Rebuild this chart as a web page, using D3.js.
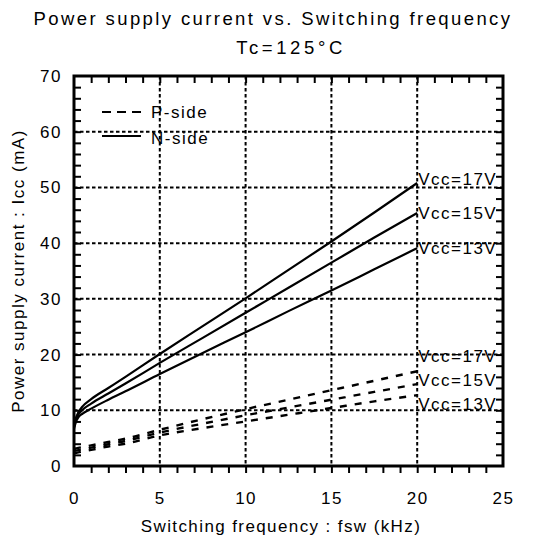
<!DOCTYPE html>
<html>
<head>
<meta charset="utf-8">
<script src="https://cdn.jsdelivr.net/npm/d3@7"></script>
<style>
  body { margin: 0; background: #fff; }
  text { font-family: "Liberation Sans", Arial, sans-serif; fill: #000; }
</style>
</head>
<body>
<div class="icc-plot"></div>
<script>
// switching frequency (kHz)
const freq = [0, 0.1, 0.25, 0.5, 1, 2, 3, 5, 7.5, 10, 12.5, 15, 17.5, 20];

// N-side (solid) Icc in mA
const n17 = [7.2, 8.5, 9.6, 10.7, 12.0, 14.0, 16.0, 20.1, 25.1, 30.1, 35.2, 40.3, 45.5, 50.8];
const n15 = [7.0, 8.2, 9.2, 10.1, 11.2, 13.0, 14.8, 18.5, 23.0, 27.5, 32.0, 36.5, 41.0, 45.4];
const n13 = [6.7, 7.8, 8.7, 9.4, 10.3, 11.9, 13.4, 16.5, 20.3, 24.0, 27.8, 31.5, 35.3, 39.1];

// P-side (dashed) Icc in mA
const p17 = [3.1, 3.15, 3.25, 3.4, 3.7, 4.3, 4.9, 6.5, 8.4, 10.2, 11.9, 13.6, 15.3, 17.0];
const p15 = [2.7, 2.75, 2.85, 3.0, 3.3, 3.9, 4.5, 6.0, 7.6, 9.1, 10.5, 11.9, 13.3, 14.7];
const p13 = [2.3, 2.35, 2.45, 2.6, 2.9, 3.5, 4.0, 5.5, 6.8, 8.0, 9.2, 10.4, 11.6, 12.7];

const vccLabels = ['Vcc=17V', 'Vcc=15V', 'Vcc=13V'];
// where the labels sit (mA)
const nLabelAt = [51.5, 45.4, 39.1];
const pLabelAt = [19.8, 15.5, 11.2];
const xTicks = [0, 5, 10, 15, 20, 25];
const yTicks = [0, 10, 20, 30, 40, 50, 60, 70];

const outerWidth = 542;
const outerHeight = 546;
const margin = {top: 76, left: 74, bottom: 80, right: 39};
const width = outerWidth - margin.left - margin.right;
const height = outerHeight - margin.top - margin.bottom;

const root = d3.select('.icc-plot')
    .append('svg')
    .attr('width', outerWidth)
    .attr('height', outerHeight);

const svg = root.append('g')
    .attr('transform', `translate(${margin.left}, ${margin.top})`);

const xScale = d3.scaleLinear().domain([0, 25]).range([0, width]);
const yScale = d3.scaleLinear().domain([0, 70]).range([height, 0]);

// grid
svg.append('g')
    .selectAll('line')
    .data(xTicks.slice(1, -1))
    .join('line')
    .attr('x1', d => xScale(d)).attr('x2', d => xScale(d))
    .attr('y1', 0).attr('y2', height)
    .attr('stroke', 'black')
    .attr('stroke-width', 2)
    .attr('stroke-dasharray', '3.5,2.5');

svg.append('g')
    .selectAll('line')
    .data(yTicks.slice(1, -1))
    .join('line')
    .attr('y1', d => yScale(d)).attr('y2', d => yScale(d))
    .attr('x1', 0).attr('x2', width)
    .attr('stroke', 'black')
    .attr('stroke-width', 2)
    .attr('stroke-dasharray', '3.5,2.5');

// minor inward ticks on all four sides
const minorX = d3.range(1, 25);
const minorY = d3.range(2, 70, 2);

svg.append('g')
    .call(d3.axisTop(xScale).tickValues(minorX).tickSize(-7).tickFormat(''))
    .attr('transform', `translate(0, ${height})`)
    .call(g => g.select('.domain').remove())
    .call(g => g.selectAll('.tick line').attr('stroke-width', 2));
svg.append('g')
    .call(d3.axisBottom(xScale).tickValues(minorX).tickSize(7).tickFormat(''))
    .call(g => g.select('.domain').remove())
    .call(g => g.selectAll('.tick line').attr('stroke-width', 2));
svg.append('g')
    .call(d3.axisRight(yScale).tickValues(minorY).tickSize(7).tickFormat(''))
    .call(g => g.select('.domain').remove())
    .call(g => g.selectAll('.tick line').attr('stroke-width', 2));
svg.append('g')
    .call(d3.axisLeft(yScale).tickValues(minorY).tickSize(7).tickFormat(''))
    .attr('transform', `translate(${width}, 0)`)
    .call(g => g.select('.domain').remove())
    .call(g => g.selectAll('.tick line').attr('stroke-width', 2));

// tick labels
svg.append('g')
    .call(d3.axisBottom(xScale).tickValues(xTicks).tickSize(0).tickPadding(26))
    .attr('transform', `translate(0, ${height})`)
    .call(g => g.select('.domain').remove())
    .call(g => g.selectAll('text')
        .attr('font-size', 17)
        .attr('letter-spacing', '1.5px')
        .attr('font-family', '"Liberation Sans", Arial, sans-serif'));

svg.append('g')
    .call(d3.axisLeft(yScale).tickValues(yTicks).tickSize(0).tickPadding(12))
    .call(g => g.select('.domain').remove())
    .call(g => g.selectAll('text')
        .attr('font-size', 17)
        .attr('letter-spacing', '1.5px')
        .attr('font-family', '"Liberation Sans", Arial, sans-serif'));

// frame
svg.append('rect')
    .attr('width', width)
    .attr('height', height)
    .attr('fill', 'none')
    .attr('stroke', 'black')
    .attr('stroke-width', 3);

// curves
const line = d3.line()
    .x((d, i) => xScale(freq[i]))
    .y(d => yScale(d))
    .curve(d3.curveMonotoneX);

const nSide = [n17, n15, n13];
const pSide = [p17, p15, p13];

svg.selectAll('.n-line')
    .data(nSide)
    .join('path')
    .attr('class', 'n-line')
    .attr('fill', 'none')
    .attr('stroke', 'black')
    .attr('stroke-width', 2.2)
    .attr('d', line);

svg.selectAll('.p-line')
    .data(pSide)
    .join('path')
    .attr('class', 'p-line')
    .attr('fill', 'none')
    .attr('stroke', 'black')
    .attr('stroke-width', 2.4)
    .attr('stroke-dasharray', '7,8')
    .attr('d', line);

// Vcc labels
const last = freq.length - 1;
svg.selectAll('.n-label')
    .data(nLabelAt)
    .join('text')
    .attr('class', 'n-label')
    .attr('x', xScale(freq[last]) + 1)
    .attr('y', d => yScale(d))
    .attr('dy', '0.35em')
    .attr('font-size', 17)
    .attr('letter-spacing', '1.5px')
    .text((d, i) => vccLabels[i]);

svg.selectAll('.p-label')
    .data(pLabelAt)
    .join('text')
    .attr('class', 'p-label')
    .attr('x', xScale(freq[last]) + 1)
    .attr('y', d => yScale(d))
    .attr('dy', '0.35em')
    .attr('font-size', 17)
    .attr('letter-spacing', '1.5px')
    .text((d, i) => vccLabels[i]);

// legend
const legend = svg.append('g').attr('transform', 'translate(28, 36)');
legend.append('line')
    .attr('x1', 0).attr('x2', 39).attr('y1', 0).attr('y2', 0)
    .attr('stroke', 'black').attr('stroke-width', 2)
    .attr('stroke-dasharray', '9,6');
legend.append('text')
    .attr('x', 49).attr('y', 0).attr('dy', '0.35em')
    .attr('font-size', 17).attr('letter-spacing', '1.5px')
    .text('P-side');
legend.append('line')
    .attr('x1', 0).attr('x2', 39).attr('y1', 24).attr('y2', 24)
    .attr('stroke', 'black').attr('stroke-width', 2);
legend.append('text')
    .attr('x', 49).attr('y', 26).attr('dy', '0.35em')
    .attr('font-size', 17).attr('letter-spacing', '1.5px')
    .text('N-side');

// titles
root.append('text')
    .attr('x', 273).attr('y', 25)
    .attr('text-anchor', 'middle')
    .attr('font-size', 18.5).attr('letter-spacing', '2.4px')
    .text('Power supply current vs. Switching frequency');
root.append('text')
    .attr('x', 291).attr('y', 54)
    .attr('text-anchor', 'middle')
    .attr('font-size', 18.5).attr('letter-spacing', '3.6px')
    .text('Tc=125°C');

root.append('text')
    .attr('x', 281).attr('y', 532)
    .attr('text-anchor', 'middle')
    .attr('font-size', 17).attr('letter-spacing', '1.4px')
    .text('Switching frequency : fsw (kHz)');

root.append('text')
    .attr('transform', `translate(24, ${margin.top + height / 2}) rotate(-90)`)
    .attr('text-anchor', 'middle')
    .attr('font-size', 17).attr('letter-spacing', '1.5px')
    .text('Power supply current : Icc (mA)');
</script>
</body>
</html>
